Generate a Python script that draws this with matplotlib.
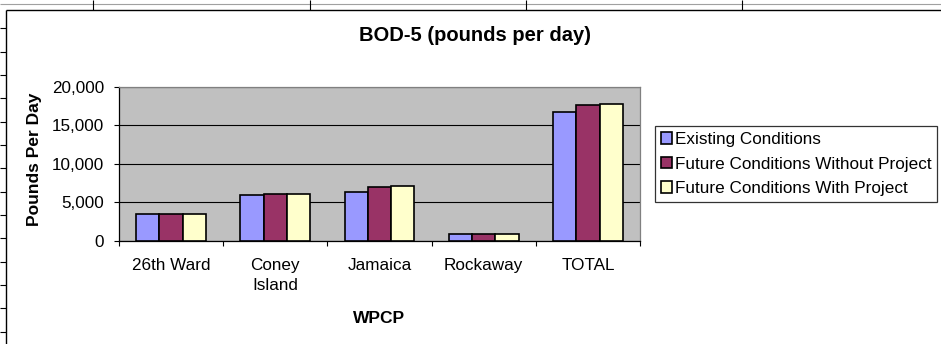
import numpy as np
import matplotlib
matplotlib.use("Agg")
import matplotlib.pyplot as plt
from matplotlib.lines import Line2D
from matplotlib.patches import Patch
from matplotlib.ticker import FuncFormatter

# BOD-5 loads per treatment plant (pounds per day)
plants = ["26th Ward", "Coney\nIsland", "Jamaica", "Rockaway", "TOTAL"]
existing = [3450, 6000, 6400, 850, 16700]
future_without = [3550, 6150, 7050, 900, 17600]
future_with = [3550, 6150, 7150, 900, 17750]
series_names = ["Existing Conditions",
                "Future Conditions Without Project",
                "Future Conditions With Project"]
series_colors = ["#9999FF", "#993366", "#FFFFCC"]
y_ticks = [0, 5000, 10000, 15000, 20000]

W, H = 941, 344
FS = 12.3
plt.rcParams['font.family'] = ['Liberation Sans', 'DejaVu Sans']

fig = plt.figure(figsize=(W / 100, H / 100), dpi=100)
fig.patch.set_facecolor('white')


def fx(p):
    return p / W


def fy(p):
    return 1 - p / H


# worksheet cell borders around the embedded chart
def seg(x0, y0, x1, y1, color='black', lw=0.8):
    fig.add_artist(Line2D([fx(x0), fx(x1)], [fy(y0), fy(y1)],
                          transform=fig.transFigure, color=color, lw=lw,
                          solid_capstyle='butt'))


seg(0, 4, W, 4, color='#A0A0A0', lw=0.8)
for cx in (93, 310, 526, 742):
    seg(cx, 0, cx, 9.5)
for ry in np.arange(28.3, H, 23.33):
    seg(0, ry, 6, ry)
# chart area border
seg(6, 9.5, W, 9.5, lw=1.0)
seg(6, 9.5, 6, H, lw=1.0)

# plot area
ax = fig.add_axes([fx(119), fy(241), fx(640) - fx(119), fy(86.7) - fy(241)])
ax.set_facecolor('#C0C0C0')

x = np.arange(len(plants))
bw = 23.3 / 104.2
series = [existing, future_without, future_with]
for i, (vals, col) in enumerate(zip(series, series_colors)):
    ax.bar(x + (i - 1) * bw, vals, width=bw, color=col,
           edgecolor='black', linewidth=1.2, zorder=3)

ax.set_xlim(-0.5, len(plants) - 0.5)
ax.set_ylim(y_ticks[0], y_ticks[-1])
ax.set_yticks(y_ticks)
ax.yaxis.set_major_formatter(FuncFormatter(lambda v, p: f"{int(v):,}"))
ax.set_xticks(x)
ax.set_xticklabels(plants, fontsize=FS, linespacing=1.36)
ax.set_xticks(np.arange(-0.5, len(plants), 1), minor=True)
ax.tick_params(axis='x', which='major', length=0, pad=12.5)
ax.tick_params(axis='x', which='minor', length=3.6, width=0.8,
               direction='out', color='black')
ax.tick_params(axis='y', length=3.6, width=0.8, direction='out',
               pad=7.2, labelsize=FS)

ax.set_axisbelow(True)
ax.yaxis.grid(True, color='black', lw=0.8)
for side in ('top', 'right'):
    ax.spines[side].set_color('#808080')
    ax.spines[side].set_linewidth(0.9)
for side in ('left', 'bottom'):
    ax.spines[side].set_color('black')
    ax.spines[side].set_linewidth(0.9)

# titles
fig.text(fx(475.5), fy(41), "BOD-5 (pounds per day)", ha='center',
         va='baseline', fontsize=14.5, fontweight='bold')
fig.text(fx(35), fy(159), "Pounds Per Day", rotation=90, ha='center',
         va='center', fontsize=12.5, fontweight='bold')
fig.text(fx(379.5), fy(322.7), "WPCP", ha='center', va='baseline',
         fontsize=12.5, fontweight='bold')

# legend
handles = [Patch(facecolor=c, edgecolor='black', linewidth=1.2)
           for c in series_colors]
leg = fig.legend(handles, series_names, loc='upper left',
                 bbox_to_anchor=(fx(655), fy(126)),
                 bbox_transform=fig.transFigure,
                 fontsize=FS, frameon=True, fancybox=False,
                 edgecolor='black', borderpad=0.35, labelspacing=0.56,
                 handlelength=0.65, handleheight=0.65, handletextpad=0.15,
                 borderaxespad=0)
leg.get_frame().set_linewidth(0.9)

fig.savefig("out.png", dpi=100)
